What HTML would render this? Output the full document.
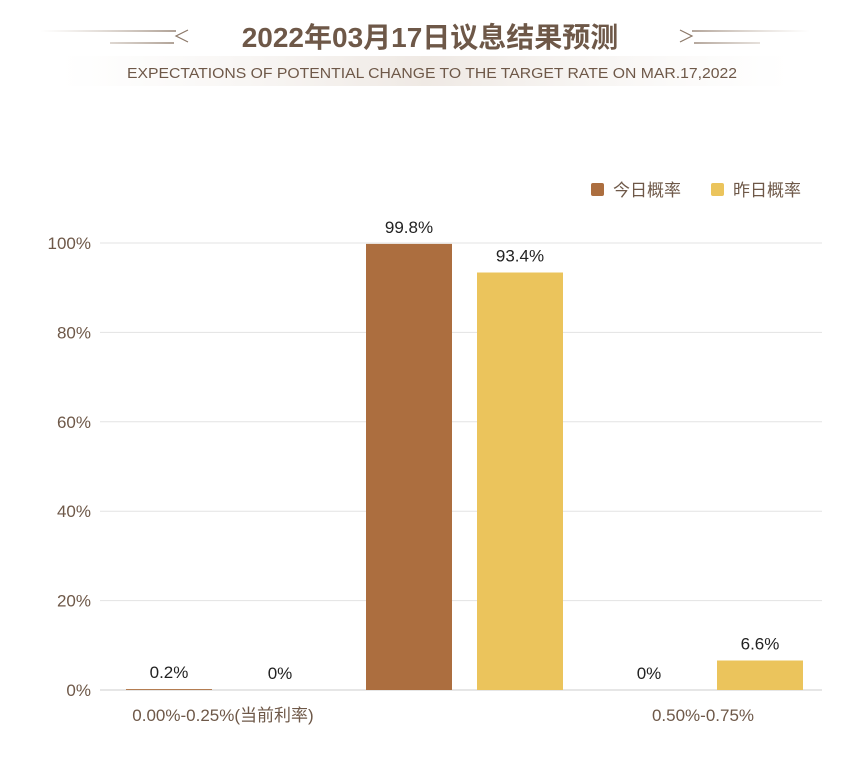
<!DOCTYPE html>
<html><head><meta charset="utf-8"><style>
body{margin:0;background:#fff;width:848px;height:752px;overflow:hidden;font-family:"Liberation Sans","Noto Sans CJK SC",sans-serif;}
</style></head><body>
<svg width="848" height="752" xmlns="http://www.w3.org/2000/svg">
<defs>
<linearGradient id="band" x1="0" x2="1"><stop offset="0" stop-color="#f4f1ee" stop-opacity="0"/><stop offset="0.5" stop-color="#efe9e4"/><stop offset="1" stop-color="#f4f1ee" stop-opacity="0"/></linearGradient>
<linearGradient id="lineL" gradientUnits="userSpaceOnUse" x1="40" y1="0" x2="185" y2="0"><stop offset="0" stop-color="#b9a898" stop-opacity="0"/><stop offset="1" stop-color="#8c7868"/></linearGradient>
<linearGradient id="lineR" gradientUnits="userSpaceOnUse" x1="680" y1="0" x2="810" y2="0"><stop offset="0" stop-color="#8c7868"/><stop offset="1" stop-color="#b9a898" stop-opacity="0"/></linearGradient>
</defs>
<rect x="60" y="56" width="730" height="30" fill="url(#band)"/>
<g>
<line x1="40" y1="31" x2="176" y2="31" stroke="url(#lineL)" stroke-width="1.5"/>
<line x1="110" y1="43" x2="174" y2="43" stroke="url(#lineL)" stroke-width="1.5"/>
<path d="M188 30 L176 36 L188 42" fill="none" stroke="#8c7868" stroke-width="1.2"/>
</g>
<g>
<line x1="692" y1="31" x2="810" y2="31" stroke="url(#lineR)" stroke-width="1.5"/>
<line x1="694" y1="43" x2="760" y2="43" stroke="url(#lineR)" stroke-width="1.5"/>
<path d="M680 30 L692 36 L680 42" fill="none" stroke="#8c7868" stroke-width="1.2"/>
</g>
<text x="430" y="47" text-anchor="middle" font-size="28" font-weight="bold" fill="#6e5848">2022年03月17日议息结果预测</text>
<text x="432" y="78" text-anchor="middle" font-size="15" fill="#6e5848" textLength="610" lengthAdjust="spacingAndGlyphs">EXPECTATIONS OF POTENTIAL CHANGE TO THE TARGET RATE ON MAR.17,2022</text>
<g>
<rect x="591" y="183" width="13" height="13" rx="2" fill="#ac6e3f"/>
<text x="613" y="196" font-size="17" fill="#6e5848">今日概率</text>
<rect x="711" y="183" width="13" height="13" rx="2" fill="#ebc45c"/>
<text x="733" y="196" font-size="17" fill="#6e5848">昨日概率</text>
</g>
<g id="grid"></g><g id="bars"></g><g id="labels"></g>
</svg>
<script>
const categories=["0.00%-0.25%(当前利率)","","0.50%-0.75%"];
const todayValues=[0.2,99.8,0];
const yesterdayValues=[0,93.4,6.6];
const yTicks=[0,20,40,60,80,100];
const NS="http://www.w3.org/2000/svg";
const X0=100,X1=820,GX1=822,Y0=690,Y1=243;
const y=v=>Y0-(v/100)*(Y0-Y1);
const bw=(X1-X0)/categories.length;
function mk(t,a,p){const e=document.createElementNS(NS,t);for(const k in a)e.setAttribute(k,a[k]);p.appendChild(e);return e;}
const g=document.getElementById('grid'),b=document.getElementById('bars'),l=document.getElementById('labels');
yTicks.forEach(t=>{
 const ln=mk('line',{x1:X0,x2:GX1,y1:y(t),y2:y(t),stroke:t===0?'#ccc':'#e3e3e3','stroke-width':1},g);
 
 
 const tx=mk('text',{x:91,y:y(t)+6,'text-anchor':'end','font-size':17,fill:'#6e5848'},g);
 tx.textContent=t+'%';
 
 
});
categories.forEach((c,i)=>{
 const cx=X0+bw*(i+0.5);
 [[todayValues[i],'#ac6e3f',cx-94,'today'],[yesterdayValues[i],'#ebc45c',cx+17,'yesterday']].forEach(([v,col,x,n])=>{
  const r=mk('rect',{x:x,y:y(v),width:86,height:Y0-y(v),fill:col},b);
  
  
  const t=mk('text',{x:x+43,y:y(v)-11,'text-anchor':'middle','font-size':17,fill:'#222'},l);
  t.textContent=v+'%';
  
  
 });
 const xl=mk('text',{x:cx+3,y:721,'text-anchor':'middle','font-size':17,fill:'#6e5848'},l);
 xl.textContent=c;
 
 
});
</script>
</body></html>
